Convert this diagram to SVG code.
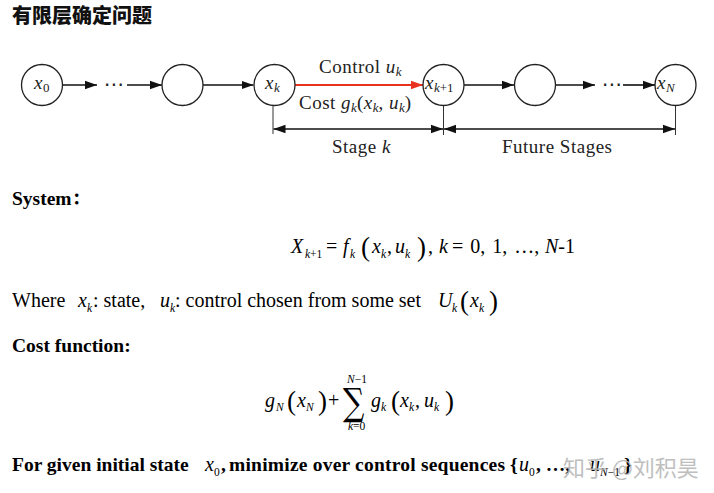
<svg xmlns="http://www.w3.org/2000/svg" width="714" height="493" viewBox="0 0 714 493">
<style>
.node{fill:#fff;stroke:#222;stroke-width:1.3}
.lbl{font-family:"Liberation Serif",serif;font-size:19px;fill:#222;letter-spacing:0.5px}
.it{font-style:italic}
.sub{font-size:13px;letter-spacing:0}
.edge{stroke:#111;stroke-width:1.6;fill:none}
.red{stroke:#e8321e;stroke-width:1.8;fill:none}
.tick{stroke:#333;stroke-width:1;fill:none}
.dots{font-family:"DejaVu Sans",sans-serif;font-size:20px;fill:#222}
.body{font-family:"Liberation Serif","Noto Serif CJK SC","Noto Sans CJK SC",serif;font-size:19.5px;fill:#000}
.b{font-weight:bold}
.m{font-family:"Liberation Serif",serif;font-size:20px;fill:#000}
.s{font-size:11.5px}
.par{font-size:27px}
</style>
<defs>
<marker id="ah" markerUnits="userSpaceOnUse" markerWidth="13" markerHeight="10" refX="12" refY="5" orient="auto">
<path d="M0,0.8 L12,5 L0,9.2 z" fill="#111"/>
</marker>
<marker id="ahr" markerUnits="userSpaceOnUse" markerWidth="13" markerHeight="10" refX="12" refY="5" orient="auto">
<path d="M0,0.8 L12,5 L0,9.2 z" fill="#e8321e"/>
</marker>
<marker id="ahs" markerUnits="userSpaceOnUse" markerWidth="13" markerHeight="10" refX="12" refY="5" orient="auto-start-reverse">
<path d="M0,0.8 L12,5 L0,9.2 z" fill="#111"/>
</marker>
</defs>
<rect width="714" height="493" fill="#fff"/>

<text x="12" y="23" style="font-family:'Noto Sans CJK SC',sans-serif;font-size:20px;font-weight:900;fill:#111">有限层确定问题</text>

<g id="connectors">
<line class="edge" x1="62.5" y1="85" x2="97" y2="85" marker-end="url(#ah)"/>
<text class="dots" x="104" y="91">⋯</text>
<line class="edge" x1="127" y1="85" x2="162" y2="85" marker-end="url(#ah)"/>
<line class="edge" x1="203" y1="85" x2="253.5" y2="85" marker-end="url(#ah)"/>
<line class="red" x1="295" y1="85" x2="423" y2="85" marker-end="url(#ahr)"/>
<line class="edge" x1="464" y1="85" x2="514" y2="85" marker-end="url(#ah)"/>
<line class="edge" x1="556" y1="85" x2="595" y2="85" marker-end="url(#ah)"/>
<text class="dots" x="602" y="91">⋯</text>
<line class="edge" x1="623" y1="85" x2="655" y2="85" marker-end="url(#ah)"/>
<line class="tick" x1="273" y1="106" x2="273" y2="134"/>
<line class="tick" x1="443.5" y1="106" x2="443.5" y2="135"/>
<line class="tick" x1="675.5" y1="106" x2="675.5" y2="135"/>
<line class="edge" x1="273.5" y1="129" x2="443" y2="129" marker-start="url(#ahs)" marker-end="url(#ahs)"/>
<line class="edge" x1="444" y1="129" x2="675" y2="129" marker-start="url(#ahs)" marker-end="url(#ahs)"/>
<text class="lbl" x="319" y="73">Control <tspan class="it">u</tspan><tspan class="it sub" dy="3">k</tspan></text>
<text class="lbl" x="299" y="109">Cost <tspan class="it">g</tspan><tspan class="it sub" dy="3">k</tspan><tspan dy="-3">(</tspan><tspan class="it">x</tspan><tspan class="it sub" dy="3">k</tspan><tspan dy="-3">, </tspan><tspan class="it">u</tspan><tspan class="it sub" dy="3">k</tspan><tspan dy="-3">)</tspan></text>
<text class="lbl" x="332" y="153">Stage <tspan class="it">k</tspan></text>
<text class="lbl" x="502" y="153">Future Stages</text>
</g>

<g id="n0"><circle class="node" cx="42" cy="85" r="20.5"/><text class="lbl" x="34" y="89"><tspan class="it">x</tspan><tspan class="sub" dy="3">0</tspan></text></g>
<g id="n1"><circle class="node" cx="182.5" cy="85" r="20.5"/></g>
<g id="nk"><circle class="node" cx="274.5" cy="85" r="20.5"/><text class="lbl" x="265" y="89"><tspan class="it">x</tspan><tspan class="it sub" dy="3">k</tspan></text></g>
<g id="nk1"><circle class="node" cx="443.5" cy="85" r="20.5"/><text class="lbl" x="425" y="89"><tspan class="it">x</tspan><tspan class="sub" dy="3"><tspan class="it">k</tspan>+1</tspan></text></g>
<g id="n2"><circle class="node" cx="535" cy="85" r="20.5"/></g>
<g id="nN"><circle class="node" cx="675.5" cy="85" r="20.5"/><text class="lbl" x="657" y="89"><tspan class="it">x</tspan><tspan class="it sub" dy="3">N</tspan></text></g>

<text class="body b" x="12" y="205">System：</text>

<text class="m"><tspan class="it" x="291" y="253">X</tspan><tspan class="s" x="305" y="258"><tspan class="it">k</tspan>+1</tspan><tspan x="326" y="253">=</tspan><tspan class="it" x="343" y="253">f</tspan><tspan class="s it" x="350" y="258">k</tspan><tspan class="par" x="361" y="256">(</tspan><tspan class="it" x="372" y="253">x</tspan><tspan class="s it" x="381" y="258">k</tspan><tspan x="387" y="253">,</tspan><tspan class="it" x="395" y="253">u</tspan><tspan class="s it" x="405" y="258">k</tspan><tspan class="par" x="417" y="256">)</tspan><tspan x="428" y="253">,</tspan><tspan class="it" x="439" y="253">k</tspan><tspan x="452" y="253" style="word-spacing:2px">= 0, 1, …,</tspan><tspan class="it" x="545" y="253">N</tspan><tspan>-1</tspan></text>

<text class="body" style="font-size:20px"><tspan x="12" y="307">Where</tspan><tspan class="m it" x="78" y="307">x</tspan><tspan class="m it s" x="87" y="312">k</tspan><tspan x="93" y="307">: state,</tspan><tspan class="m it" x="160" y="307">u</tspan><tspan class="m it s" x="170" y="312">k</tspan><tspan x="175" y="307">: control chosen from some set</tspan><tspan class="m it" x="438" y="307">U</tspan><tspan class="m it s" x="452" y="312">k</tspan><tspan class="m par" x="460" y="310">(</tspan><tspan class="m it" x="470" y="307">x</tspan><tspan class="m it s" x="479" y="312">k</tspan><tspan class="m par" x="489" y="310">)</tspan></text>

<text class="body b" x="12" y="352">Cost function:</text>

<text class="m"><tspan class="it" x="265" y="407">g</tspan><tspan class="s it" x="276" y="411">N</tspan><tspan class="par" x="287" y="410">(</tspan><tspan class="it" x="297" y="407">x</tspan><tspan class="s it" x="306" y="411">N</tspan><tspan class="par" x="318" y="410">)</tspan><tspan x="328" y="407">+</tspan></text>
<text x="343" y="415" style="font-family:'DejaVu Serif',serif;font-size:30px;fill:#000" transform="translate(0,-103.75) scale(1,1.25)">∑</text>
<text class="m s" x="347" y="383"><tspan class="it">N</tspan>−1</text>
<text class="m s" x="348" y="430"><tspan class="it">k</tspan>=0</text>
<text class="m"><tspan class="it" x="371" y="407">g</tspan><tspan class="s it" x="381" y="411">k</tspan><tspan class="par" x="391" y="410">(</tspan><tspan class="it" x="400" y="407">x</tspan><tspan class="s it" x="409" y="411">k</tspan><tspan x="415" y="407">,</tspan><tspan class="it" x="424" y="407">u</tspan><tspan class="s it" x="434" y="411">k</tspan><tspan class="par" x="445" y="410">)</tspan></text>

<text class="body b"><tspan x="12" y="471">For given initial state</tspan><tspan class="m it" style="font-weight:normal" x="205" y="471">x</tspan><tspan class="m s" style="font-weight:normal" x="214" y="476">0</tspan><tspan x="221" y="471">,</tspan><tspan x="229" y="471" textLength="276" lengthAdjust="spacing">minimize over control sequences</tspan><tspan x="510" y="471">{</tspan><tspan class="m it" style="font-weight:normal" x="519" y="471">u</tspan><tspan class="m s" style="font-weight:normal" x="529" y="476">0</tspan><tspan x="536" y="471">, …,</tspan><tspan class="m it" style="font-weight:normal" x="590" y="471">u</tspan><tspan class="m s" style="font-weight:normal" x="600" y="476"><tspan class="it">N</tspan>−1</tspan><tspan x="624" y="471">}</tspan></text>

<text x="563" y="476" style="font-family:'Noto Sans CJK SC',sans-serif;font-size:22px;fill:#b4b4b4;opacity:0.85">知乎 @刘积昊</text>
</svg>
